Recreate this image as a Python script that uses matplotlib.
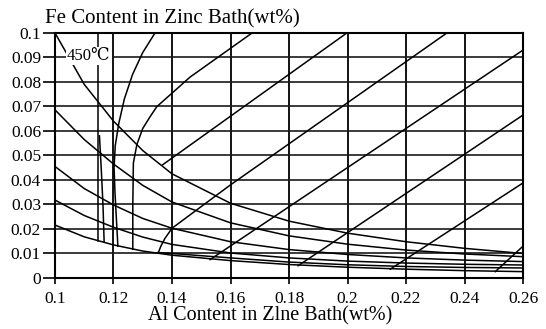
import matplotlib
matplotlib.use("Agg")
import matplotlib.pyplot as plt

plt.rcParams['font.family'] = ['Liberation Serif', 'DejaVu Serif', 'DejaVu Sans']

# tick values / labels
x_ticks = [0.10, 0.12, 0.14, 0.16, 0.18, 0.20, 0.22, 0.24, 0.26]
x_tick_labels = ['0.1', '0.12', '0.14', '0.16', '0.18', '0.2', '0.22', '0.24', '0.26']
y_ticks = [0, 0.01, 0.02, 0.03, 0.04, 0.05, 0.06, 0.07, 0.08, 0.09, 0.10]
y_tick_labels = ['0', '0.01', '0.02', '0.03', '0.04', '0.05', '0.06', '0.07', '0.08', '0.09', '0.1']

# Fe solubility curves (decreasing)
al_pts = [0.10, 0.11, 0.12, 0.13, 0.14, 0.16, 0.18, 0.20, 0.22, 0.24, 0.26]
fe_c1 = [0.100, 0.079, 0.0640, 0.0520, 0.0425, 0.0305, 0.0232, 0.0183, 0.0148, 0.0121, 0.0100]
fe_c2 = [0.0686, 0.0565, 0.0465, 0.0378, 0.0310, 0.0225, 0.0172, 0.0138, 0.0114, 0.0098, 0.0087]
fe_c3 = [0.0455, 0.0365, 0.0298, 0.0243, 0.0203, 0.0148, 0.0116, 0.0096, 0.0082, 0.0073, 0.0067]
fe_c4 = [0.0318, 0.0255, 0.0207, 0.0167, 0.0137, 0.0102, 0.0082, 0.0069, 0.0061, 0.0056, 0.0053]
fe_c5 = [0.0216, 0.0168, 0.0135, 0.0110, 0.0093, 0.0071, 0.0055, 0.0044, 0.0036, 0.0030, 0.0026]
al_c6 = [0.1353, 0.14, 0.16, 0.18, 0.20, 0.22, 0.24, 0.26]
fe_c6 = [0.0104, 0.0100, 0.0082, 0.0065, 0.0054, 0.0047, 0.0043, 0.0041]

# steep boundary curves and their straight continuations
al_v1 = [0.1148, 0.1148]
fe_v1 = [0.100, 0.0150]
al_v2 = [0.1152, 0.1158, 0.1164, 0.1168]
fe_v2 = [0.058, 0.045, 0.030, 0.0148]
al_s2 = [0.1342, 0.1300, 0.1265, 0.1237, 0.1218, 0.1206, 0.1202, 0.1205, 0.1210, 0.1215]
fe_s2 = [0.100, 0.092, 0.083, 0.073, 0.063, 0.054, 0.045, 0.035, 0.024, 0.0130]
al_s3 = [0.1266, 0.1266, 0.1268, 0.1280, 0.1300, 0.1325, 0.1348, 0.1462, 0.1674]
fe_s3 = [0.0117, 0.0300, 0.0470, 0.0545, 0.0610, 0.0658, 0.0699, 0.0820, 0.100]
al_db = [0.1368, 0.1998]
fe_db = [0.0462, 0.100]
al_dc = [0.1353, 0.1362, 0.1375, 0.1400, 0.1600, 0.2340]
fe_dc = [0.0103, 0.0130, 0.0160, 0.0203, 0.0380, 0.100]

# lower right straight lines (start, end)
al_l1 = [0.1530, 0.26]
fe_l1 = [0.0075, 0.0930]
al_l2 = [0.1831, 0.26]
fe_l2 = [0.0050, 0.0665]
al_l3 = [0.2146, 0.26]
fe_l3 = [0.0036, 0.0388]
al_l4 = [0.2505, 0.26]
fe_l4 = [0.0026, 0.0130]

fig = plt.figure(figsize=(5.46, 3.29), dpi=100)
ax = fig.add_axes([0.1007, 0.155, 0.8573, 0.745])

# grid drawn as black lines like the scanned chart
for xv in x_ticks[1:-1]:
    ax.axvline(xv, color='black', lw=1.3, zorder=1)
for yv in y_ticks[1:-1]:
    ax.axhline(yv, color='#1a1a1a', lw=1.2, zorder=1)

lw = 1.1
for fe in [fe_c1, fe_c2, fe_c3, fe_c4, fe_c5]:
    ax.plot(al_pts, fe, color='black', lw=lw, zorder=2)
ax.plot(al_c6, fe_c6, color='black', lw=lw, zorder=2)

for xs, ys in [(al_v1, fe_v1), (al_v2, fe_v2), (al_s2, fe_s2), (al_s3, fe_s3),
               (al_db, fe_db), (al_dc, fe_dc), (al_l1, fe_l1), (al_l2, fe_l2),
               (al_l3, fe_l3), (al_l4, fe_l4)]:
    ax.plot(xs, ys, color='black', lw=lw, zorder=2)

ax.text(0.1116, 0.0906, '450℃', fontsize=12, ha='center', va='center', zorder=5,
        bbox=dict(facecolor='white', edgecolor='none', pad=0.6))

ax.set_xlim(0.10, 0.26)
ax.set_ylim(0, 0.10)
ax.set_xticks(x_ticks)
ax.set_xticklabels(x_tick_labels)
ax.set_yticks(y_ticks)
ax.set_yticklabels(y_tick_labels)
ax.tick_params(axis='y', direction='out', length=9, width=1.2, pad=1, labelsize=12.5)
ax.tick_params(axis='x', direction='out', length=4, width=1.2, pad=5, labelsize=12.5)
for sp in ax.spines.values():
    sp.set_linewidth(1.5)
    sp.set_color('black')

fig.text(0.082, 0.942, 'Fe Content in Zinc Bath(wt%)', fontsize=15, ha='left', va='center')
fig.text(0.495, 0.04, 'Al Content in Zlne Bath(wt%)', fontsize=14.5, ha='center', va='center')

fig.savefig('out.png', dpi=100)
